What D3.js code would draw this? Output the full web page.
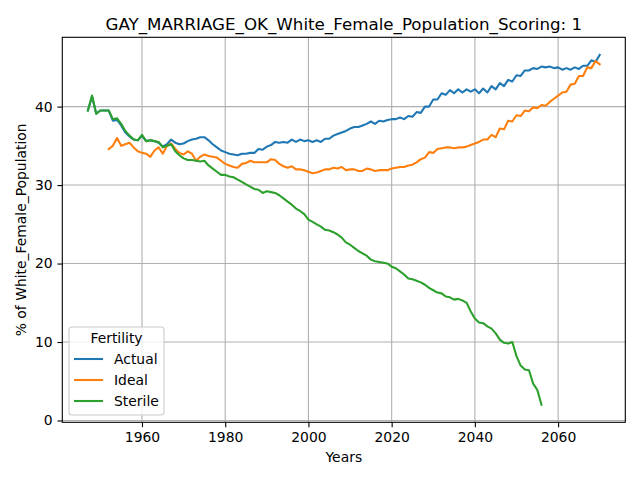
<!DOCTYPE html>
<html><head><meta charset="utf-8">
<script src="https://cdn.jsdelivr.net/npm/d3@7"></script>
<style>body{margin:0;background:#fff}svg{display:block;font-family:"DejaVu Sans",sans-serif}</style>
</head><body>
<svg id="chart" width="640" height="480"></svg>
<script>
const title = "GAY_MARRIAGE_OK_White_Female_Population_Scoring: 1";
const xLabel = "Years";
const yLabel = "% of White_Female_Population";
const legendTitle = "Fertility";
const seriesNames = ["Actual", "Ideal", "Sterile"];
const seriesColors = ["#1f77b4", "#ff7f0e", "#2ca02c"];
const xTicks = [1960, 1980, 2000, 2020, 2040, 2060];
const yTicks = [0, 10, 20, 30, 40];

const actualStart = 1947;
const actual = [39.5,41.3,39.1,39.5,39.5,39.5,38.2,38.3,37.6,36.7,36.2,35.8,35.7,36.3,35.6,35.7,35.6,35.4,34.9,35.2,
35.8,35.4,35.2,35.3,35.6,35.8,35.9,36.1,36.1,35.7,35.2,34.8,34.4,34.2,34.0,33.9,33.8,34.0,34.0,34.1,
34.1,34.6,34.5,34.9,35.1,35.5,35.4,35.5,35.4,35.8,35.5,35.8,35.6,35.7,35.5,35.7,35.5,35.9,35.9,36.3,
36.5,36.7,36.9,37.2,37.4,37.4,37.6,37.8,38.1,37.8,38.2,38.1,38.3,38.4,38.4,38.6,38.4,38.8,38.7,39.3,
39.2,40.0,40.0,40.9,40.9,41.7,41.5,42.1,41.7,42.2,41.8,42.2,41.9,42.2,41.7,42.3,41.8,42.6,42.2,43.0,
42.6,43.4,43.2,44.0,43.9,44.6,44.6,44.9,44.8,45.1,45.0,45.1,44.9,45.0,44.7,44.9,44.7,45.0,44.8,45.2,
45.2,45.9,45.7,46.6];

const idealStart = 1952;
const ideal = [34.6,35.0,36.0,35.0,35.2,35.4,34.8,34.3,34.1,34.0,33.6,34.4,34.8,34.0,35.0,35.3,34.6,34.1,33.9,34.3,
34.0,33.1,33.6,33.9,33.7,33.6,33.5,33.1,32.7,32.5,32.3,32.2,32.7,32.8,33.1,32.9,32.9,32.9,32.9,33.3,
33.2,32.7,32.4,32.2,32.4,32.0,32.0,31.9,31.7,31.5,31.6,31.8,32.0,32.0,32.2,32.1,32.3,31.9,32.0,32.0,
31.8,31.8,32.1,32.0,31.8,31.9,31.9,31.9,32.1,32.2,32.3,32.3,32.5,32.6,32.9,33.3,33.5,34.2,34.1,34.6,
34.7,34.8,34.8,34.7,34.8,34.8,34.9,35.1,35.3,35.5,35.8,35.8,36.4,36.1,37.2,37.1,38.2,38.1,38.9,38.8,
39.5,39.4,39.9,39.8,40.2,40.1,40.6,41.0,41.4,41.8,41.9,42.8,42.9,43.9,43.9,45.0,44.9,45.8,45.4];

const sterileStart = 1947;
const sterile = [39.5,41.4,39.1,39.5,39.5,39.5,38.4,38.5,37.8,36.9,36.3,35.8,35.7,36.4,35.6,35.7,35.6,35.5,34.8,35.0,
35.2,34.3,33.8,33.4,33.2,33.2,33.1,33.0,33.1,32.5,32.1,31.7,31.3,31.3,31.1,31.0,30.7,30.4,30.1,29.8,
29.5,29.4,29.0,29.2,29.1,29.0,28.7,28.3,27.9,27.5,27.0,26.7,26.3,25.6,25.3,25.0,24.7,24.3,24.2,24.0,
23.7,23.3,22.7,22.4,22.0,21.6,21.3,21.0,20.5,20.3,20.2,20.1,20.0,19.6,19.4,19.0,18.6,18.1,18.0,17.8,
17.6,17.3,16.9,16.6,16.3,16.2,15.8,15.7,15.4,15.5,15.3,15.0,13.9,13.0,12.5,12.4,12.0,11.7,11.1,10.3,
9.9,9.8,10.0,8.2,7.0,6.5,6.4,4.7,3.9,2.0];

const series = [
  {name: seriesNames[0], color: seriesColors[0], pts: actual.map((v,i)=>({x: actualStart+i, y: v}))},
  {name: seriesNames[1], color: seriesColors[1], pts: ideal.map((v,i)=>({x: idealStart+i, y: v}))},
  {name: seriesNames[2], color: seriesColors[2], pts: sterile.map((v,i)=>({x: sterileStart+i, y: v}))}
];

const svg = d3.select("#chart");
const L = 62.3, R = 625.3, T = 37.3, B = 422.3;

const all = series.flatMap(s => s.pts);
const [x0, x1] = d3.extent(all, d => d.x);
const [y0, y1] = d3.extent(all, d => d.y);
const xm = (x1 - x0) * 0.05, ym = (y1 - y0) * 0.05;
const x = d3.scaleLinear().domain([x0 - xm, x1 + xm]).range([L, R]);
const y = d3.scaleLinear().domain([y0 - ym, y1 + ym]).range([B, T]);

// grid
const g = svg.append("g");
g.selectAll(".gx").data(xTicks).join("line")
  .attr("x1", d => x(d)).attr("x2", d => x(d)).attr("y1", T).attr("y2", B)
  .attr("stroke", "#b0b0b0").attr("stroke-width", 1.1);
g.selectAll(".gy").data(yTicks).join("line")
  .attr("y1", d => y(d)).attr("y2", d => y(d)).attr("x1", L).attr("x2", R)
  .attr("stroke", "#b0b0b0").attr("stroke-width", 1.1);

// lines
const line = d3.line().x(d => x(d.x)).y(d => y(d.y));
const clip = svg.append("clipPath").attr("id", "clip").append("rect")
  .attr("x", L).attr("y", T).attr("width", R - L).attr("height", B - T);
svg.append("g").attr("clip-path", "url(#clip)").selectAll("path").data(series).join("path")
  .attr("d", d => line(d.pts)).attr("fill", "none").attr("stroke", d => d.color)
  .attr("stroke-width", 2.08).attr("stroke-linejoin", "round").attr("stroke-linecap", "square");

// axes
const xAxis = d3.axisBottom(x).tickValues(xTicks).tickFormat(d3.format("d")).tickSize(4.86).tickPadding(4.86);
const yAxis = d3.axisLeft(y).tickValues(yTicks).tickFormat(d3.format("d")).tickSize(4.86).tickPadding(4.86);
const gx = svg.append("g").attr("transform", `translate(0,${B})`).call(xAxis);
const gy = svg.append("g").attr("transform", `translate(${L},0)`).call(yAxis);
[gx, gy].forEach(a => {
  a.select(".domain").remove();
  a.selectAll("line").attr("stroke", "#000").attr("stroke-width", 1.1);
  a.selectAll("text").attr("font-size", "13.9px").attr("fill", "#000").attr("font-family", "DejaVu Sans");
});

// frame
svg.append("rect").attr("x", L).attr("y", T).attr("width", R - L).attr("height", B - T)
  .attr("fill", "none").attr("stroke", "#000").attr("stroke-width", 1.1);

// title and labels
svg.append("text").attr("x", (L + R) / 2).attr("y", 29.5).attr("text-anchor", "middle")
  .attr("font-size", "16.7px").text(title);
svg.append("text").attr("x", (L + R) / 2).attr("y", 462).attr("text-anchor", "middle")
  .attr("font-size", "13.9px").text(xLabel);
svg.append("text").attr("transform", `translate(26,${(T + B) / 2}) rotate(-90)`).attr("text-anchor", "middle")
  .attr("font-size", "13.9px").text(yLabel);

// legend
const lg = svg.append("g");
lg.append("rect").attr("x", 69).attr("y", 327).attr("width", 95).attr("height", 88).attr("rx", 3)
  .attr("fill", "#fff").attr("fill-opacity", 0.8).attr("stroke", "#cccccc").attr("stroke-width", 1.1);
lg.append("text").attr("x", 116.5).attr("y", 343).attr("text-anchor", "middle")
  .attr("font-size", "13.9px").text(legendTitle);
series.forEach((s, i) => {
  const yy = 359 + i * 21;
  lg.append("line").attr("x1", 74).attr("x2", 103).attr("y1", yy).attr("y2", yy)
    .attr("stroke", s.color).attr("stroke-width", 2.08);
  lg.append("text").attr("x", 114).attr("y", yy + 5).attr("font-size", "13.9px").text(s.name);
});
</script>
</body></html>
